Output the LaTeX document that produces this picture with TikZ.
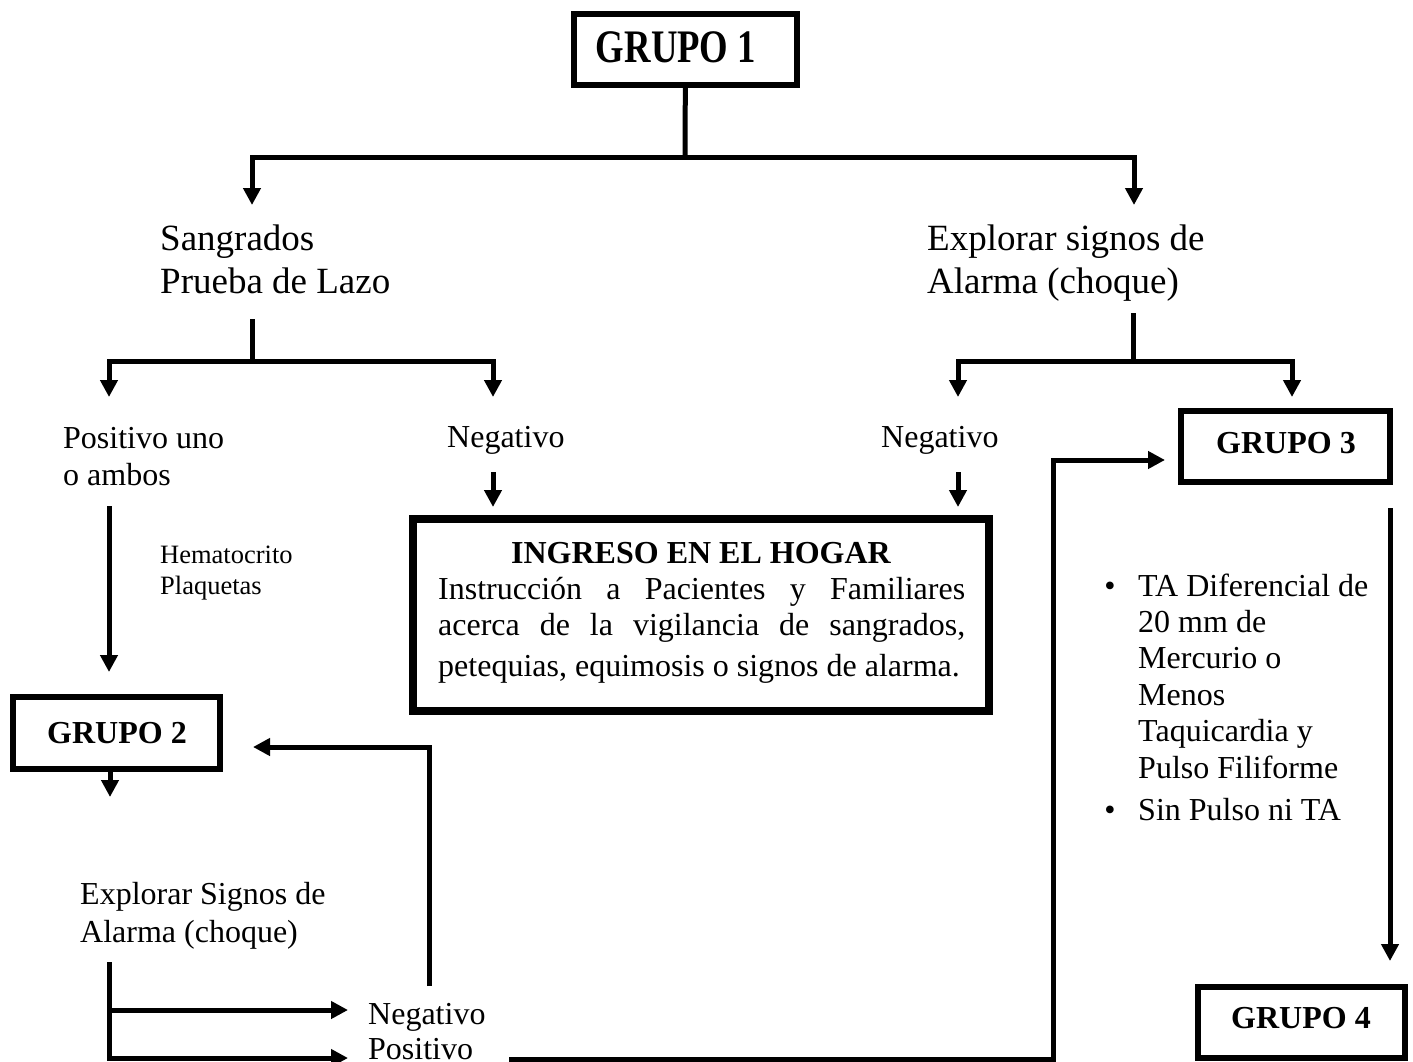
\documentclass[tikz,border=0pt]{standalone}
\usepackage{fontspec}
\setmainfont{Liberation Serif}
\usepackage{graphicx}
\usetikzlibrary{arrows.meta}
\tikzset{
  conn/.style={line width=5pt},
  arr/.style={conn, -{Triangle[length=17pt,width=17pt]}},
  arrtwo/.style={conn, {Triangle[length=17pt,width=17pt]}-{Triangle[length=17pt,width=17pt]}},
  gbox/.style={draw, line width=6pt, inner sep=0pt},
  ingbox/.style={draw, line width=8pt, inner sep=0pt},
  bigtxt/.style={font=\fontsize{37}{43}\selectfont, align=left, inner sep=0pt},
  normtxt/.style={font=\fontsize{32}{37}\selectfont, align=left, inner sep=0pt},
  listtxt/.style={font=\fontsize{32}{36.4}\selectfont, align=left, inner sep=0pt},
  smalltxt/.style={font=\fontsize{26.5}{31}\selectfont, align=left, inner sep=0pt},
  gtext/.style={font=\bfseries\fontsize{32}{36}\selectfont, inner sep=0pt},
}
\begin{document}
\begin{tikzpicture}[x=1pt,y=-1pt]
\useasboundingbox (0,0) rectangle (1413,1062);
\clip (0,0) rectangle (1413,1062);

% boxes
\node[gbox, minimum width=223pt, minimum height=71pt] (g1) at (685.5,49.5) {};
\node[gtext, font=\bfseries\fontsize{36.7}{40}\selectfont, anchor=base] (g1t) at (676,63) {\scalebox{1}[1.27]{GRUPO 1}};
\node[gbox, minimum width=207pt, minimum height=72pt] (g2) at (116.5,733) {};
\node[gtext, anchor=base] (g2t) at (117,743) {GRUPO 2};
\node[gbox, minimum width=209pt, minimum height=71pt] (g3) at (1285.5,446.5) {};
\node[gtext, anchor=base] (g3t) at (1286,453) {GRUPO 3};
\node[gbox, minimum width=207pt, minimum height=71pt] (g4) at (1301.5,1022.5) {};
\node[gtext, anchor=base] (g4t) at (1301,1028) {GRUPO 4};
\node[ingbox, minimum width=576pt, minimum height=192pt] (ing) at (701,615) {};

% texts (multi-line nodes: base = last line)
\node[bigtxt, anchor=base west] (sang) at (160,293) {Sangrados\\Prueba de Lazo};
\node[bigtxt, anchor=base west] (expl) at (927,293) {Explorar signos de\\Alarma (choque)};
\node[normtxt, anchor=base west] (posi) at (63,485) {Positivo uno\\o ambos};
\node[normtxt, anchor=base west] (nega) at (447,447) {Negativo};
\node[normtxt, anchor=base west] (negb) at (881,447) {Negativo};
\node[smalltxt, anchor=base west] (hema) at (160,594) {Hematocrito\\Plaquetas};
\node[gtext, anchor=base] (ingt) at (701,563) {INGRESO EN EL HOGAR};
\node[normtxt, anchor=base west] (inga) at (438,599) {\makebox[527pt][s]{Instrucción a Pacientes y Familiares}};
\node[normtxt, anchor=base west] (ingb) at (438,635) {\makebox[527pt][s]{acerca de la vigilancia de sangrados,}};
\node[normtxt, anchor=base west] (ingc) at (438,676) {petequias, equimosis o signos de alarma.};
\node[normtxt, anchor=base] (bula) at (1110,596) {\textbullet};
\node[listtxt, anchor=base west] (lista) at (1138,778) {TA Diferencial de\\20 mm de\\Mercurio o\\Menos\\Taquicardia y\\Pulso Filiforme};
\node[normtxt, anchor=base] (bulb) at (1110,820) {\textbullet};
\node[normtxt, anchor=base west] (listb) at (1138,820) {Sin Pulso ni TA};
\node[normtxt, font=\fontsize{32}{38}\selectfont, anchor=base west] (expb) at (80,942) {Explorar Signos de\\Alarma (choque)};
\node[normtxt, anchor=base west] (negc) at (368,1024) {Negativo};
\node[normtxt, anchor=base west] (posc) at (368,1059) {Positivo};

% coordinates
\coordinate (j1) at (685,157);
\coordinate (ta) at (252,205);
\coordinate (tb) at (1134,205);
\coordinate (k1) at (252,319);
\coordinate (k2) at (252,361);
\coordinate (tc) at (109,397);
\coordinate (td) at (493,397);
\coordinate (m1) at (1133,313);
\coordinate (m2) at (1133,361);
\coordinate (te) at (958,397);
\coordinate (tf) at (1292,397);
\coordinate (n1) at (493,472);
\coordinate (tg) at (493,507);
\coordinate (n2) at (958,472);
\coordinate (th) at (958,507);
\coordinate (p1) at (109,506);
\coordinate (ti) at (109,672);
\coordinate (tj) at (110,797);
\coordinate (e1) at (109,962);
\coordinate (tk) at (348,1010);
\coordinate (tl) at (348,1058);
\coordinate (r1) at (429,986);
\coordinate (tm) at (253,747);
\coordinate (s1) at (509,1059);
\coordinate (s2) at (1053,460);
\coordinate (tn) at (1165,460);
\coordinate (u1) at (1390,508);
\coordinate (to) at (1390,961);

% connectors
\draw[conn] (g1) -- (j1);
\draw[arrtwo] (ta) |- (j1) -| (tb);
\draw[conn] (k1) -- (k2);
\draw[arrtwo] (tc) |- (k2) -| (td);
\draw[conn] (m1) -- (m2);
\draw[arrtwo] (te) |- (m2) -| (tf);
\draw[arr] (n1) -- (tg);
\draw[arr] (n2) -- (th);
\draw[arr] (p1) -- (ti);
\draw[arr] (g2.south -| tj) -- (tj);
\draw[arr] (e1) |- (tk);
\draw[arr] (e1) |- (tl);
\draw[arr] (r1) |- (tm);
\draw[arr] (s1) -| (s2) -- (tn);
\draw[arr] (u1) -- (to);
\end{tikzpicture}
\end{document}
